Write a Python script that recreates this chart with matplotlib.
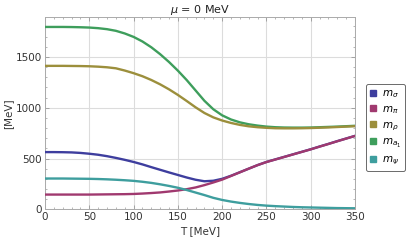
import matplotlib
matplotlib.use("Agg")
import matplotlib.pyplot as plt
from matplotlib.lines import Line2D
from matplotlib.ticker import MultipleLocator

T = list(range(0, 351, 10))

m_a1 = [1795, 1795, 1795, 1794, 1792, 1789, 1783, 1773, 1757, 1731,
        1697, 1652, 1595, 1527, 1450, 1365, 1272, 1170, 1068, 985,
        925, 884, 856, 837, 824, 814, 808, 805, 804, 804,
        805, 808, 811, 814, 818, 822]
m_rho = [1412, 1412, 1412, 1411, 1410, 1408, 1404, 1398, 1388, 1366,
         1340, 1310, 1273, 1230, 1181, 1126, 1066, 1004, 948, 905,
         874, 850, 831, 817, 808, 802, 798, 797, 797, 798,
         800, 803, 806, 810, 814, 818]
m_sigma = [563, 563, 562, 560, 555, 547, 537, 523, 506, 487,
           466, 442, 415, 389, 363, 338, 313, 291, 276, 281,
           300, 330, 365, 400, 435, 466, 491, 516, 541, 566,
           591, 618, 644, 671, 697, 723]
m_pi = [145, 145, 145, 145, 145, 145, 146, 147, 148, 149,
        151, 155, 160, 166, 175, 185, 198, 215, 238, 264,
        292, 328, 364, 400, 435, 465, 490, 515, 540, 565,
        590, 617, 643, 670, 696, 722]
m_psi = [303, 303, 303, 302, 301, 300, 298, 295, 291, 286,
         280, 271, 260, 246, 230, 212, 190, 165, 140, 113,
         92, 76, 63, 52, 43, 36, 31, 27, 23, 20,
         18, 16, 14, 12, 11, 10]

series = [
    (m_sigma, "#3e3e9e", r"$m_\sigma$"),
    (m_pi, "#a0396f", r"$m_\pi$"),
    (m_rho, "#9c8f3c", r"$m_\rho$"),
    (m_a1, "#3e9e5c", r"$m_{a_1}$"),
    (m_psi, "#3e9e9e", r"$m_\psi$"),
]

fig = plt.figure(figsize=(4.07, 2.44), dpi=100)
ax = fig.add_axes([45/407, 1 - 209.3/244, 310/407, (209.3 - 17.3)/244])

plot_order = [3, 2, 0, 1, 4]
for i in plot_order:
    vals, col, lab = series[i]
    ax.plot(T, vals, color=col, lw=1.7, solid_capstyle="round", zorder=3)

ax.set_xlim(0, 350)
ax.set_ylim(0, 1890)
ax.xaxis.set_major_locator(MultipleLocator(50))
ax.xaxis.set_minor_locator(MultipleLocator(10))
ax.yaxis.set_major_locator(MultipleLocator(500))
ax.yaxis.set_minor_locator(MultipleLocator(100))
ax.grid(True, which="major", color="#dcdcdc", lw=0.8, zorder=0)
ax.tick_params(which="both", direction="in", top=True, right=True,
               labelsize=7.5, colors="#999999", labelcolor="#333333")
ax.tick_params(which="major", length=3, width=0.6)
ax.tick_params(which="minor", length=1.6, width=0.5)
for s in ax.spines.values():
    s.set_color("#aaaaaa")
    s.set_linewidth(0.7)
ax.tick_params(axis="x", pad=2)
ax.tick_params(axis="y", pad=2)

ax.set_xlabel("T [MeV]", fontsize=7.5, color="#333333", labelpad=3)
ax.set_ylabel("[MeV]", fontsize=7.5, color="#333333", labelpad=2)
ax.set_title(r"$\mu$ = 0 MeV", fontsize=8, color="#222222", pad=3)

handles = [Line2D([], [], marker="s", ls="none", color=c, markersize=4.5)
           for _, c, _ in series]
labels = [l for _, _, l in series]
leg = fig.legend(handles, labels, loc="upper left",
                 bbox_to_anchor=(366/407, 1 - 84/244),
                 fontsize=7.5, frameon=True, fancybox=True,
                 handlelength=0.6, handletextpad=0.5, labelspacing=0.4,
                 borderpad=0.4, borderaxespad=0)
leg.get_frame().set_edgecolor("#444444")
leg.get_frame().set_linewidth(0.7)

fig.savefig("out.png", dpi=100)
